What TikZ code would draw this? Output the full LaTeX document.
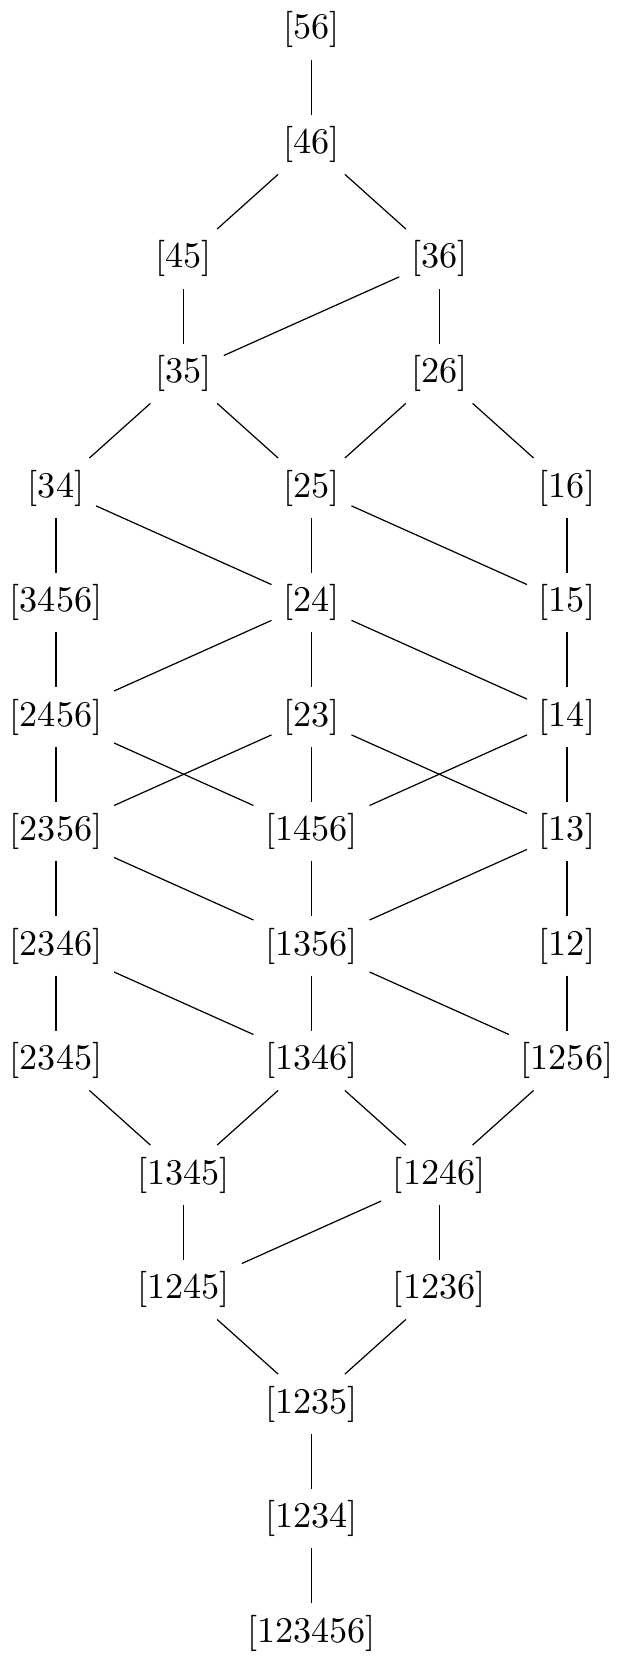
\documentclass[tikz,border=0pt]{standalone}
\usepackage{tikz}

\begin{document}
\begin{tikzpicture}[x=36.7pt, y=32.9pt,
  elt/.style={inner sep=3.2pt, font=\fontsize{10.4pt}{12pt}\selectfont},
  cov/.style={black, line width=0.35pt}]
  \useasboundingbox (-89.5pt,8.6pt) rectangle (87.8pt,-467.2pt);

  % elements of the poset: label/column/row
  \foreach \lab/\c/\r in {56/0/0, 46/0/1, 45/-1/2, 36/1/2, 35/-1/3, 26/1/3,
      34/-2/4, 25/0/4, 16/2/4, 3456/-2/5, 24/0/5, 15/2/5,
      2456/-2/6, 23/0/6, 14/2/6, 2356/-2/7, 1456/0/7, 13/2/7,
      2346/-2/8, 1356/0/8, 12/2/8, 2345/-2/9, 1346/0/9, 1256/2/9,
      1345/-1/10, 1246/1/10, 1245/-1/11, 1236/1/11,
      1235/0/12, 1234/0/13, 123456/0/14}
    \node[elt] (n\lab) at (\c,-\r) {[\lab]};

  % covering relations
  \foreach \a/\b in {56/46, 46/45, 46/36, 45/35, 36/35, 36/26,
      35/34, 35/25, 26/25, 26/16, 34/3456, 34/24, 25/24, 25/15, 16/15,
      3456/2456, 24/2456, 24/23, 24/14, 15/14,
      2456/2356, 2456/1456, 23/2356, 23/1456, 23/13, 14/1456, 14/13,
      2356/2346, 2356/1356, 1456/1356, 13/1356, 13/12,
      2346/2345, 2346/1346, 1356/1346, 1356/1256, 12/1256,
      2345/1345, 1346/1345, 1346/1246, 1256/1246,
      1345/1245, 1246/1245, 1246/1236, 1245/1235, 1236/1235,
      1235/1234, 1234/123456}
    \draw[cov] (n\a) -- (n\b);
\end{tikzpicture}
\end{document}
